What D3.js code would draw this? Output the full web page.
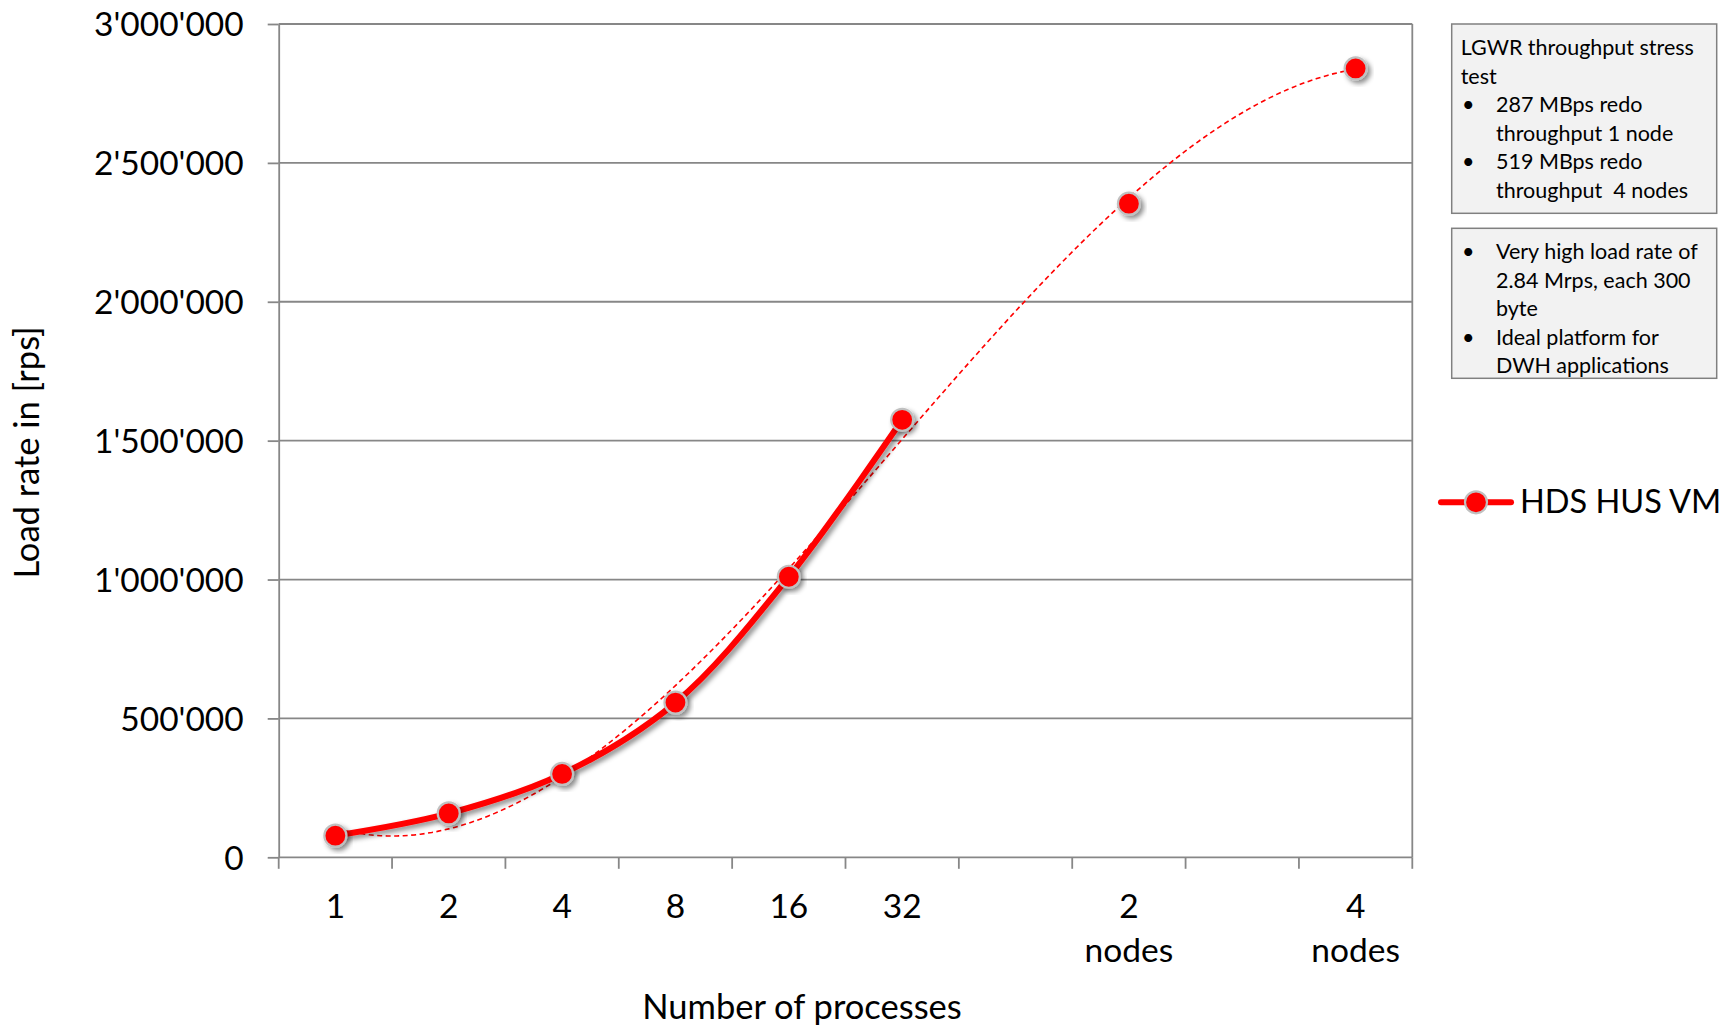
<!DOCTYPE html>
<html>
<head>
<meta charset="utf-8">
<script src="https://cdn.jsdelivr.net/npm/d3@7"></script>
<style>
  html, body { margin: 0; padding: 0; background: #ffffff; }
  svg { display: block; font-family: Lato, "Open Sans", sans-serif; }
</style>
</head>
<body>
<svg id="chart" width="1732" height="1027"></svg>
<script>
// Categories along the x axis (empty strings are spacer slots without a label)
const categories = ["1", "2", "4", "8", "16", "32", "", "2 nodes", "", "4 nodes"];
// Load rate in records per second; null = no measurement in that slot
const loadRate = [78000, 158000, 300000, 557000, 1010000, 1575000, null, 2353000, null, 2840000];
const yTicks = [0, 500000, 1000000, 1500000, 2000000, 2500000, 3000000];
const seriesName = "HDS HUS VM";
const noteLines1 = [
  { bullet: false, text: "LGWR throughput stress" },
  { bullet: false, text: "test" },
  { bullet: true,  text: "287 MBps redo" },
  { bullet: null,  text: "throughput 1 node" },
  { bullet: true,  text: "519 MBps redo" },
  { bullet: null,  text: "throughput  4 nodes" }
];
const noteLines2 = [
  { bullet: true,  text: "Very high load rate of" },
  { bullet: null,  text: "2.84 Mrps, each 300" },
  { bullet: null,  text: "byte" },
  { bullet: true,  text: "Ideal platform for" },
  { bullet: null,  text: "DWH applications" }
];

const svg = d3.select("#chart");
const gridColor = "#878787";
const red = "#ff0000";

const plot = { left: 278.7, right: 1412.3, top: 24, bottom: 857.3 };

const x = d3.scaleBand().domain(d3.range(categories.length)).range([plot.left, plot.right]).padding(0);
const bw = x.bandwidth();
const xc = i => x(i) + bw / 2;
const y = d3.scaleLinear().domain([0, 3000000]).range([plot.bottom, plot.top]);

const locale = d3.formatLocale({ decimal: ".", thousands: "'", grouping: [3], currency: ["", ""] });
const fmt = locale.format(",");

// drop shadow used by the series line and markers
const defs = svg.append("defs");
const f = defs.append("filter").attr("id", "shadow")
  .attr("x", "-30%").attr("y", "-30%").attr("width", "160%").attr("height", "160%");
f.append("feDropShadow").attr("dx", 3).attr("dy", 3).attr("stdDeviation", 2.4)
  .attr("flood-color", "#000").attr("flood-opacity", 0.45);

// horizontal gridlines
svg.append("g").selectAll("line").data(yTicks.filter(v => v > 0)).join("line")
  .attr("x1", plot.left).attr("x2", plot.right)
  .attr("y1", d => y(d)).attr("y2", d => y(d))
  .attr("stroke", gridColor).attr("stroke-width", 1.8);

// right border of the plot area
svg.append("line").attr("x1", plot.right).attr("x2", plot.right)
  .attr("y1", plot.top).attr("y2", plot.bottom)
  .attr("stroke", gridColor).attr("stroke-width", 1.8);

// y axis
const yAxis = svg.append("g").attr("transform", `translate(${plot.left},0)`)
  .call(d3.axisLeft(y).tickValues(yTicks).tickFormat(fmt).tickSize(11).tickSizeOuter(0).tickPadding(24));
yAxis.select(".domain").attr("stroke", gridColor).attr("stroke-width", 1.8);
yAxis.selectAll(".tick line").attr("stroke", gridColor).attr("stroke-width", 1.8);
yAxis.selectAll(".tick text").attr("font-size", 33.5).attr("fill", "#000")
  .attr("dy", "0.35em").style("font-family", "Lato, 'Open Sans', sans-serif");

// x axis line and tick marks at category boundaries
svg.append("line").attr("x1", plot.left).attr("x2", plot.right)
  .attr("y1", plot.bottom).attr("y2", plot.bottom)
  .attr("stroke", gridColor).attr("stroke-width", 1.8);
const boundaries = categories.map((c, i) => x(i)).concat([plot.right]);
svg.append("g").selectAll("line").data(boundaries).join("line")
  .attr("x1", d => d).attr("x2", d => d)
  .attr("y1", plot.bottom).attr("y2", plot.bottom + 11.5)
  .attr("stroke", gridColor).attr("stroke-width", 1.8);

// x tick labels (multi-line)
const xl = svg.append("g").selectAll("text").data(categories).join("text")
  .attr("text-anchor", "middle").attr("font-size", 33.5).attr("fill", "#000");
xl.each(function (d, i) {
  const parts = d ? d.split(" ") : [];
  d3.select(this).selectAll("tspan").data(parts).join("tspan")
    .attr("x", xc(i)).attr("y", (p, k) => 917.5 + k * 44.5).text(p => p);
});

// axis titles
svg.append("text").attr("x", 802).attr("y", 1019).attr("text-anchor", "middle")
  .attr("font-size", 34.5).attr("fill", "#000").text("Number of processes");
svg.append("text").attr("transform", "translate(38.5,452.5) rotate(-90)")
  .attr("text-anchor", "middle").attr("font-size", 34.5).attr("fill", "#000")
  .text("Load rate in [rps]");

// data points
const pts = loadRate.map((v, i) => ({ i, v }));
const defined = pts.filter(d => d.v != null);

// cubic least-squares trendline over the measured points (x = slot number)
function polyFit(xs, ys, order) {
  const n = order + 1;
  const A = Array.from({ length: n }, () => new Array(n + 1).fill(0));
  xs.forEach((xv, k) => {
    for (let r = 0; r < n; r++) {
      for (let c = 0; c < n; c++) A[r][c] += Math.pow(xv, r + c);
      A[r][n] += ys[k] * Math.pow(xv, r);
    }
  });
  for (let col = 0; col < n; col++) {
    let piv = col;
    for (let r = col + 1; r < n; r++) if (Math.abs(A[r][col]) > Math.abs(A[piv][col])) piv = r;
    [A[col], A[piv]] = [A[piv], A[col]];
    for (let r = 0; r < n; r++) {
      if (r === col) continue;
      const m = A[r][col] / A[col][col];
      for (let c = col; c <= n; c++) A[r][c] -= m * A[col][c];
    }
  }
  return A.map((row, r) => row[n] / row[r]);
}
const coef = polyFit(defined.map(d => d.i + 1), defined.map(d => d.v), 3);
const trendAt = t => coef.reduce((s, c, k) => s + c * Math.pow(t, k), 0);
const first = defined[0].i, last = defined[defined.length - 1].i;
const xLin = d3.scaleLinear().domain([0, categories.length - 1]).range([xc(0), xc(categories.length - 1)]);
const trend = d3.range(first, last + 0.0001, 0.05).map(t => ({ t, v: trendAt(t + 1) }));
svg.append("path").datum(trend)
  .attr("d", d3.line().x(d => xLin(d.t)).y(d => y(d.v)))
  .attr("fill", "none").attr("stroke", red).attr("stroke-width", 1.6)
  .attr("stroke-dasharray", "5,3.5");

// smoothed series line (connects consecutive measurements only)
svg.append("path").datum(pts)
  .attr("d", d3.line().defined(d => d.v != null).x(d => xc(d.i)).y(d => y(d.v))
    .curve(d3.curveCatmullRom.alpha(0.5)))
  .attr("fill", "none").attr("stroke", red).attr("stroke-width", 6)
  .attr("stroke-linecap", "butt").attr("stroke-linejoin", "round")
  .attr("filter", "url(#shadow)");

// markers
svg.append("g").selectAll("circle").data(defined).join("circle")
  .attr("cx", d => xc(d.i)).attr("cy", d => y(d.v)).attr("r", 11)
  .attr("fill", red).attr("stroke", "#c0c0c0").attr("stroke-width", 2.2)
  .attr("filter", "url(#shadow)");

// note boxes
function noteBox(y0, h, lines, firstBaseline) {
  const g = svg.append("g");
  g.append("rect").attr("x", 1451.7).attr("y", y0).attr("width", 265).attr("height", h)
    .attr("fill", "#f2f2f2").attr("stroke", "#808080").attr("stroke-width", 1.5);
  lines.forEach((ln, k) => {
    const by = firstBaseline + k * 28.5;
    if (ln.bullet) {
      g.append("text").attr("x", 1462).attr("y", by).attr("font-size", 21.5).attr("fill", "#000").text("•");
    }
    g.append("text").attr("x", ln.bullet === false ? 1460.7 : 1496).attr("y", by)
      .attr("font-size", 21.5).attr("fill", "#000").attr("xml:space", "preserve")
      .style("white-space", "pre").text(ln.text);
  });
}
noteBox(24, 189.3, noteLines1, 55);
noteBox(228.3, 150, noteLines2, 259.3);

// legend
const lg = svg.append("g");
lg.append("line").attr("x1", 1441).attr("x2", 1511).attr("y1", 502.3).attr("y2", 502.3)
  .attr("stroke", red).attr("stroke-width", 6).attr("stroke-linecap", "round");
lg.append("circle").attr("cx", 1476).attr("cy", 502.3).attr("r", 11)
  .attr("fill", red).attr("stroke", "#c0c0c0").attr("stroke-width", 2.2);
lg.append("text").attr("x", 1520).attr("y", 513).attr("font-size", 32.5).attr("fill", "#000").text(seriesName);
</script>
</body>
</html>
